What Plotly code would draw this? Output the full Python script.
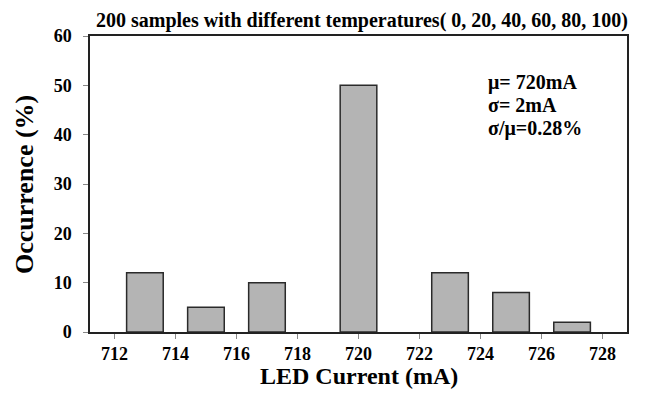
import plotly.graph_objects as go

currents = [713, 715, 717, 720, 723, 725, 727]
occurrence = [12, 5, 10, 50, 12, 8, 2]
x_ticks = [712, 714, 716, 718, 720, 722, 724, 726, 728]
y_ticks = [0, 10, 20, 30, 40, 50, 60]
title_text = "200 samples with different temperatures( 0, 20, 40, 60, 80, 100)"
stats_lines = ["μ= 720mA", "σ= 2mA", "σ/μ=0.28%"]

FONT = "Liberation Serif"

# page has an 8px body margin, so the figure is drawn 8px smaller
W, H = 641, 386
ML, MR, MT, MB = 82, 22, 28, 62
PW, PH = W - ML - MR, H - MT - MB


def px(xp):  # page x pixel -> paper fraction
    return (xp - 8 - ML) / PW


def py(yp):  # page y pixel -> paper fraction
    return (H - MB - (yp - 8)) / PH


fig = go.Figure()
fig.add_trace(go.Bar(
    x=currents, y=occurrence, width=1.2,
    marker=dict(color="#b4b4b4", line=dict(color="#2a2a2a", width=1.5)),
))

axis_common = dict(ticks="outside", ticklen=5, tickcolor="#888", tickwidth=1,
                   showline=True, linecolor="#222", linewidth=1.5,
                   mirror=True, showgrid=False, zeroline=False,
                   tickfont=dict(family=FONT, size=18, color="black", weight="bold"))

fig.update_layout(
    width=W, height=H,
    margin=dict(l=ML, r=MR, t=MT, b=MB),
    plot_bgcolor="white", paper_bgcolor="white",
    showlegend=False,
    font=dict(family=FONT, size=15, color="black"),
    xaxis=dict(range=[711.2, 728.8], tickvals=x_ticks, **axis_common),
    yaxis=dict(range=[0, 60], tickvals=y_ticks, ticklabelstandoff=8, **axis_common),
)

annotations = [
    dict(text="<b>" + title_text + "</b>", x=px(362), y=py(20), xanchor="center",
         yanchor="middle", font=dict(family=FONT, size=20, color="black")),
    dict(text="<b>LED Current (mA)</b>", x=px(359), y=py(376), xanchor="center",
         yanchor="middle", font=dict(family=FONT, size=24, color="black")),
    dict(text="<b>Occurrence (%)</b>", x=px(24), y=py(185), xanchor="center",
         yanchor="middle", textangle=-90, font=dict(family=FONT, size=26, color="black")),
]
for i, line in enumerate(stats_lines):
    annotations.append(dict(text="<b>" + line + "</b>", x=px(486), y=py(82 + 23 * i),
                            xanchor="left", yanchor="middle",
                            font=dict(family=FONT, size=20, color="black")))
for a in annotations:
    a.update(xref="paper", yref="paper", showarrow=False)
fig.update_layout(annotations=annotations)

fig.write_html("out.html")
